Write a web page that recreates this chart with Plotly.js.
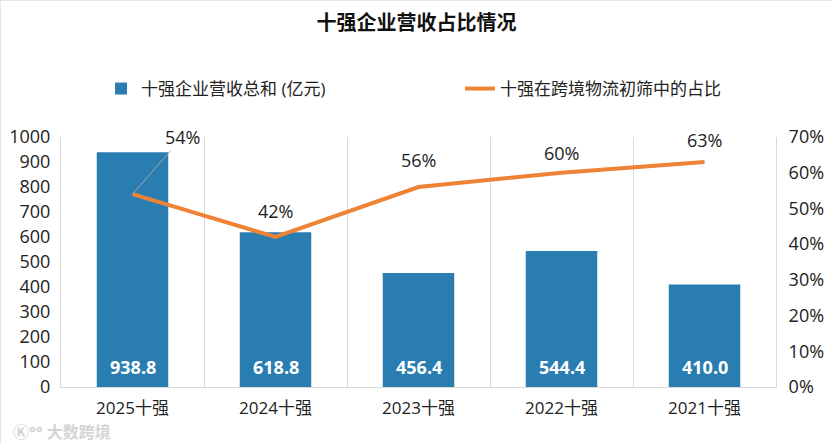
<!DOCTYPE html>
<html>
<head>
<meta charset="utf-8">
<script src="https://cdn.plot.ly/plotly-3.0.1.min.js"></script>
<style>
html,body{margin:0;padding:0;background:#fff;}
#chart{width:829px;height:441px;border:1px solid #e6e6e6;}
</style>
</head>
<body>
<div id="chart"></div>
<script>
const categories = ["2025十强", "2024十强", "2023十强", "2022十强", "2021十强"];
const revenue = [938.8, 618.8, 456.4, 544.4, 410.0];
const share = [0.54, 0.42, 0.56, 0.60, 0.63];
const leftTicks = [0, 100, 200, 300, 400, 500, 600, 700, 800, 900, 1000];
const rightTicks = [0, 0.1, 0.2, 0.3, 0.4, 0.5, 0.6, 0.7];

const FONT = "'Open Sans', 'Noto Sans CJK SC', sans-serif";
const BLUE = "#2a7db1";
const ORANGE = "#ee8235";

const barTrace = {
  type: "bar",
  name: "十强企业营收总和 (亿元)",
  x: categories,
  y: revenue,
  marker: {color: BLUE},
  legend: "legend",
  hoverinfo: "x+y"
};
const lineTrace = {
  type: "scatter",
  mode: "lines",
  name: "十强在跨境物流初筛中的占比",
  x: categories,
  y: share,
  yaxis: "y2",
  legend: "legend2",
  line: {color: ORANGE, width: 4},
  hoverinfo: "x+y"
};

const annotations = [];
revenue.forEach((v, i) => {
  annotations.push({
    x: categories[i], y: 0, xref: "x", yref: "y",
    text: v.toFixed(1), showarrow: false,
    yanchor: "bottom", yshift: 6,
    font: {family: FONT, size: 18, color: "#ffffff", weight: "bold"}
  });
});
const labelOffsets = [[50, -57], [0, -26], [0, -27], [0, -20], [0, -22]];
share.forEach((v, i) => {
  const a = {
    x: categories[i], y: v, xref: "x", yref: "y2",
    text: Math.round(v * 100) + "%",
    font: {family: FONT, size: 18, color: "#222"}
  };
  if (i === 0) {
    Object.assign(a, {showarrow: true, arrowhead: 0, arrowwidth: 1, arrowcolor: "#a6a6a6",
      ax: labelOffsets[i][0], ay: labelOffsets[i][1], standoff: 0, startstandoff: 0});
  } else {
    Object.assign(a, {showarrow: false, yshift: -labelOffsets[i][1]});
  }
  annotations.push(a);
});
annotations.push({
  xref: "paper", yref: "paper", x: -0.07, y: -0.23, xanchor: "left", yanchor: "bottom",
  text: "Ⓚ°° 大数跨境", showarrow: false,
  font: {family: FONT, size: 16, color: "#d4d4d4", weight: "bold"}
});

const legendCommon = {
  orientation: "h",
  y: 1.192, yanchor: "middle",
  xanchor: "left",
  font: {family: FONT, size: 17, color: "#222"},
  bgcolor: "rgba(0,0,0,0)"
};

const layout = {
  width: 831, height: 443,
  margin: {l: 60, r: 56, t: 136, b: 57},
  paper_bgcolor: "#ffffff",
  plot_bgcolor: "#ffffff",
  font: {family: FONT, size: 17, color: "#222"},
  title: {
    text: "十强企业营收占比情况",
    x: 0.5, xanchor: "center",
    y: 1 - 22 / 443, yref: "container", yanchor: "middle",
    font: {family: FONT, size: 20, color: "#111", weight: "bold"}
  },
  bargap: 0.5,
  showlegend: true,
  legend: Object.assign({}, legendCommon, {x: 0.056}),
  legend2: Object.assign({}, legendCommon, {x: 0.558}),
  xaxis: {
    type: "category",
    range: [-0.5, 4.5],
    tickson: "boundaries",
    showgrid: true, gridcolor: "#d9d9d9", gridwidth: 1,
    showline: true, linecolor: "#d9d9d9", linewidth: 1,
    ticks: "", ticklabelstandoff: 6,
    tickfont: {family: FONT, size: 17, color: "#222"},
    fixedrange: true
  },
  yaxis: {
    range: [0, 1000],
    tickvals: leftTicks,
    ticktext: leftTicks.map(String),
    showgrid: false, zeroline: false,
    showline: true, linecolor: "#d9d9d9", linewidth: 1,
    ticks: "", ticklabelstandoff: 6,
    tickfont: {family: FONT, size: 18, color: "#222"},
    fixedrange: true
  },
  yaxis2: {
    overlaying: "y", side: "right",
    range: [0, 0.7],
    tickvals: rightTicks,
    ticktext: rightTicks.map(t => Math.round(t * 100) + "%"),
    showgrid: false, zeroline: false,
    showline: true, linecolor: "#d9d9d9", linewidth: 1,
    ticks: "", ticklabelstandoff: 8,
    tickfont: {family: FONT, size: 18, color: "#222"},
    fixedrange: true
  },
  annotations: annotations
};

Plotly.newPlot("chart", [barTrace, lineTrace], layout, {displayModeBar: false, staticPlot: true});
</script>
</body>
</html>
